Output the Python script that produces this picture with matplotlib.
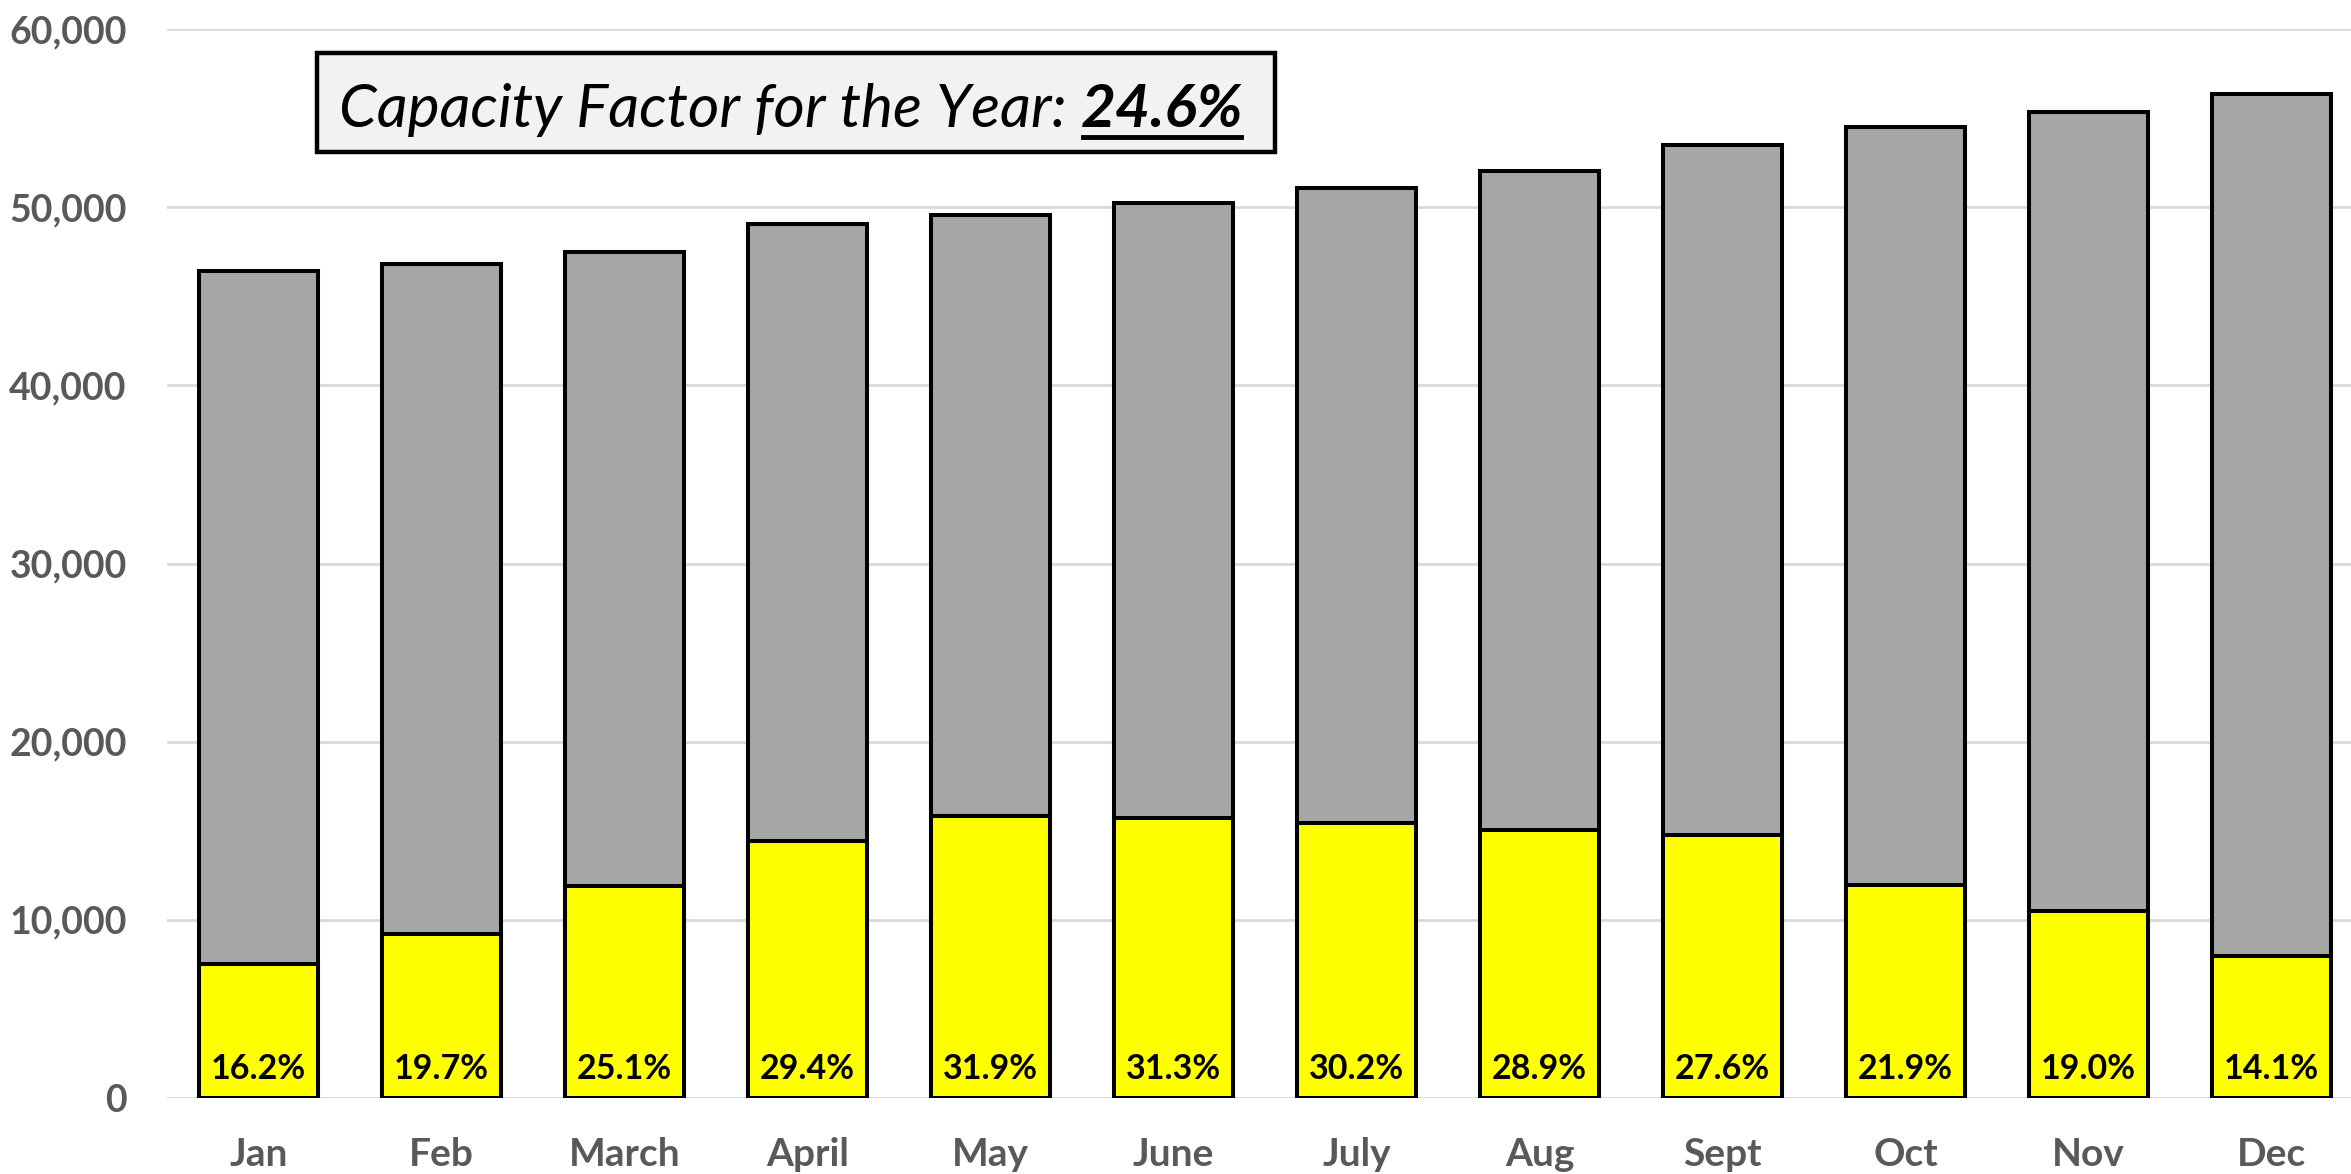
import matplotlib
matplotlib.use("Agg")
import matplotlib.pyplot as plt
from matplotlib.patches import Rectangle
from matplotlib.lines import Line2D
from matplotlib.ticker import FuncFormatter

months = ["Jan", "Feb", "March", "April", "May", "June",
          "July", "Aug", "Sept", "Oct", "Nov", "Dec"]
# Monthly capacity (total possible output) and the capacity factor achieved, %
capacity = [46400, 46800, 47470, 49080, 49580, 50250,
            51050, 52020, 53480, 54500, 55350, 56330]
capacity_factor = [16.2, 19.7, 25.1, 29.4, 31.9, 31.3,
                   30.2, 28.9, 27.6, 21.9, 19.0, 14.1]
annual_factor = 24.6
y_ticks = [0, 10000, 20000, 30000, 40000, 50000, 60000]

generation = [c * f / 100.0 for c, f in zip(capacity, capacity_factor)]

W, H = 2351, 1174
DPI = 100
plt.rcParams["font.family"] = ["Lato", "DejaVu Sans"]

fig = plt.figure(figsize=(W / DPI, H / DPI), dpi=DPI)
left_px, right_px, top_px, bottom_px = 167, 2363, 29, 1098
ax = fig.add_axes([left_px / W, 1 - bottom_px / H,
                   (right_px - left_px) / W, (bottom_px - top_px) / H])

x = list(range(len(months)))
bar_w = 0.645
edge_lw = 2.9
ax.bar(x, capacity, width=bar_w, color="#a6a6a6", edgecolor="black",
       linewidth=edge_lw, zorder=2)
ax.bar(x, generation, width=bar_w, color="#ffff00", edgecolor="black",
       linewidth=edge_lw, zorder=3)

for xi, f in zip(x, capacity_factor):
    ax.annotate(f"{f:.1f}%", xy=(xi, 0), xytext=(0, 14), textcoords="offset points",
                ha="center", va="baseline", fontsize=24.5, fontweight="bold",
                color="black", zorder=4)

ax.set_xlim(-0.5, len(months) - 0.5)
ax.set_ylim(0, 60000)
ax.set_yticks(y_ticks)
ax.yaxis.set_major_formatter(FuncFormatter(lambda v, p: f"{int(v):,}"))
ax.set_xticks(x)
ax.set_xticklabels(months)
ax.tick_params(axis="both", length=0, labelcolor="#595959")
ax.tick_params(axis="y", pad=29, labelsize=27)
ax.tick_params(axis="x", pad=28, labelsize=28)
for lab in ax.get_xticklabels() + ax.get_yticklabels():
    lab.set_fontweight("bold")
for s in ax.spines.values():
    s.set_visible(False)
ax.grid(axis="y", color="#d9d9d9", linewidth=2.0, zorder=0)
ax.set_axisbelow(True)

# Annual capacity factor callout
box_l, box_t, box_r, box_b = 317, 53, 1275, 152
fig.patches.append(Rectangle((box_l / W, 1 - box_b / H), (box_r - box_l) / W,
                             (box_b - box_t) / H, transform=fig.transFigure,
                             facecolor="#f2f2f2", edgecolor="black",
                             linewidth=3.2, zorder=5))
base_y = 1 - 127 / H
t1 = fig.text(339 / W, base_y, "Capacity Factor for the Year: ", fontsize=43.5,
              style="italic", va="baseline", ha="left", color="black", zorder=6)
fig.canvas.draw()
r = fig.canvas.get_renderer()
bb1 = t1.get_window_extent(r)
t2 = fig.text(bb1.x1 / W, base_y, f"{annual_factor:.1f}%", fontsize=43.5,
              style="italic", fontweight="bold", va="baseline", ha="left",
              color="black", zorder=6)
bb2 = t2.get_window_extent(r)
uy = (H - 137) / H
fig.lines.append(Line2D([bb2.x0 / W + 2 / W, bb2.x1 / W - 2 / W], [uy, uy],
                        transform=fig.transFigure, color="black",
                        linewidth=3.5, zorder=6))

fig.savefig("out.png", dpi=DPI)
